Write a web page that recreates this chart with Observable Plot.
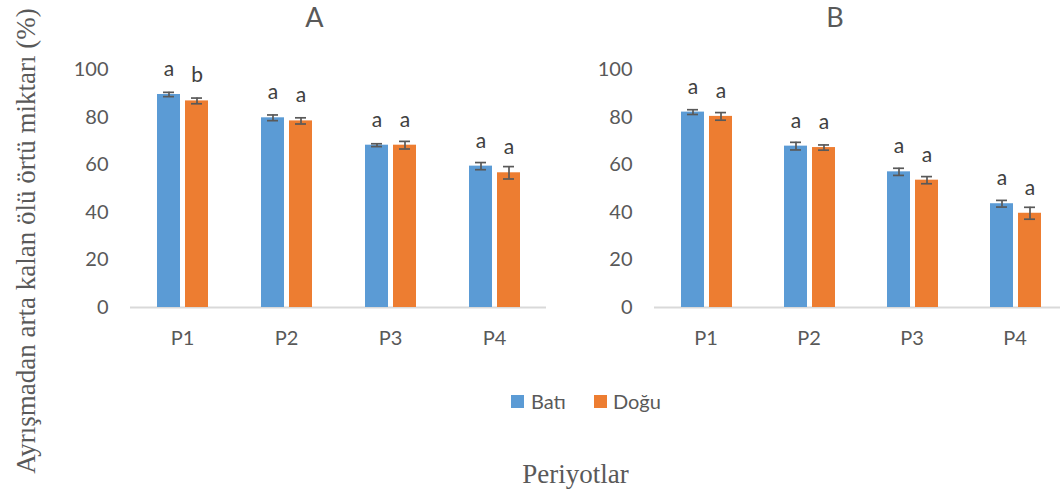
<!DOCTYPE html>
<html>
<head>
<meta charset="utf-8">
<script src="https://cdn.jsdelivr.net/npm/d3@7"></script>
<script src="https://cdn.jsdelivr.net/npm/@observablehq/plot@0.6"></script>
<style>
  html, body { margin: 0; padding: 0; background: #fff; overflow: hidden; }
  #chart { position: relative; width: 1060px; height: 496px; font-family: Lato, "Open Sans", sans-serif; color: #595959; }
  .panel { position: absolute; top: 0; }
  .panel svg { max-width: none; display: block; }
  .lbl { position: absolute; white-space: nowrap; line-height: 1; }
  .serif { font-family: "Liberation Serif", "DejaVu Serif", serif; }
  .sw { position: absolute; width: 13px; height: 13px; }
</style>
</head>
<body>
<div id="chart"></div>
<script>
// Periods and the two slope aspects
const periods = ["P1", "P2", "P3", "P4"];
const seriesNames = ["Batı", "Doğu"];
const seriesColors = ["#5B9BD5", "#ED7D31"];
const yTicks = [0, 20, 40, 60, 80, 100];

// Panel A: remaining litter (%), mean ± standard error, significance letters
const aBati = [89.5, 79.7, 68.2, 59.4];
const aBatiSe = [0.9, 1.2, 0.6, 1.5];
const aBatiLetters = ["a", "a", "a", "a"];
const aDogu = [86.8, 78.4, 68.2, 56.6];
const aDoguSe = [1.2, 1.3, 1.6, 2.6];
const aDoguLetters = ["b", "a", "a", "a"];

// Panel B
const bBati = [82.1, 67.8, 57.0, 43.6];
const bBatiSe = [1.0, 1.6, 1.5, 1.4];
const bBatiLetters = ["a", "a", "a", "a"];
const bDogu = [80.3, 67.2, 53.5, 39.6];
const bDoguSe = [1.6, 1.1, 1.5, 2.5];
const bDoguLetters = ["a", "a", "a", "a"];

function toRows(bati, batiSe, batiLet, dogu, doguSe, doguLet) {
  const rows = [];
  periods.forEach((p, i) => {
    rows.push({period: p, series: seriesNames[0], value: bati[i], se: batiSe[i], letter: batiLet[i]});
    rows.push({period: p, series: seriesNames[1], value: dogu[i], se: doguSe[i], letter: doguLet[i]});
  });
  return rows;
}

const chart = document.getElementById("chart");

function panel(rows, left, width, fxRange) {
  const errStyle = {stroke: "#595959", strokeWidth: 1.7};
  const m = fxRange[0];
  const plot = Plot.plot({
    width,
    height: 360,
    marginTop: 40,
    marginBottom: 53,
    marginLeft: m,
    marginRight: 0,
    style: {fontFamily: "Lato, 'Open Sans', sans-serif", fontSize: "20px", color: "#595959", background: "transparent", overflow: "visible"},
    fx: {domain: periods, range: fxRange, padding: 0},
    // inner band for the two aspects, inside each period's facet frame
    x: {domain: seriesNames, range: [m + 26, m + 79], paddingInner: 0.17, paddingOuter: 0, axis: null},
    y: {domain: [0, 100], range: [307, 69]},
    color: {domain: seriesNames, range: seriesColors},
    marks: [
      Plot.ruleY([0], {stroke: "#d9d9d9", strokeWidth: 2}),
      Plot.barY(rows, {fx: "period", x: "series", y: "value", fill: "series"}),
      Plot.ruleX(rows, {fx: "period", x: "series", y1: d => d.value - d.se, y2: d => d.value + d.se, ...errStyle}),
      Plot.tickY(rows, {fx: "period", x: "series", y: d => d.value + d.se, insetLeft: 6, insetRight: 6, ...errStyle}),
      Plot.tickY(rows, {fx: "period", x: "series", y: d => d.value - d.se, insetLeft: 6, insetRight: 6, ...errStyle}),
      Plot.text(rows, {fx: "period", x: "series", y: "value", text: "letter", dy: -18.5, lineAnchor: "bottom", fontSize: 21, fill: "#404040"}),
      Plot.axisY({ticks: yTicks, tickSize: 0, tickPadding: 22, label: null, fontSize: 20, facetAnchor: "left"}),
      Plot.axisFx({anchor: "bottom", tickSize: 0, tickPadding: 23, label: null, fontSize: 20})
    ]
  });
  const wrap = document.createElement("div");
  wrap.className = "panel";
  wrap.style.left = left + "px";
  wrap.appendChild(plot);
  chart.appendChild(wrap);
}

panel(toRows(aBati, aBatiSe, aBatiLetters, aDogu, aDoguSe, aDoguLetters), 0, 560, [130, 546]);
panel(toRows(bBati, bBatiSe, bBatiLetters, bDogu, bDoguSe, bDoguLetters), 540, 520, [112, 527]);

function label(text, x, y, opts = {}) {
  const el = document.createElement("div");
  el.className = "lbl" + (opts.serif ? " serif" : "");
  el.textContent = text;
  el.style.left = x + "px";
  el.style.top = y + "px";
  el.style.fontSize = (opts.size || 20) + "px";
  if (opts.transform) el.style.transform = opts.transform;
  chart.appendChild(el);
  return el;
}

// Panel titles
label("A", 314.5, 3, {size: 27, transform: "translateX(-50%)"});
label("B", 835, 3, {size: 27, transform: "translateX(-50%)"});

// Legend
seriesNames.forEach((name, i) => {
  const sw = document.createElement("div");
  sw.className = "sw";
  sw.style.background = seriesColors[i];
  sw.style.left = [511, 594][i] + "px";
  sw.style.top = "395px";
  chart.appendChild(sw);
  label(name, [531, 613][i], 390.5, {size: 20});
});

// Axis titles
label("Periyotlar", 575.5, 461, {size: 27, serif: true, transform: "translateX(-50%)"});
label("Ayrışmadan arta kalan ölü örtü miktarı (%)", 26, 241, {size: 27, serif: true, transform: "translate(-50%, -50%) rotate(-90deg)"});
</script>
</body>
</html>
